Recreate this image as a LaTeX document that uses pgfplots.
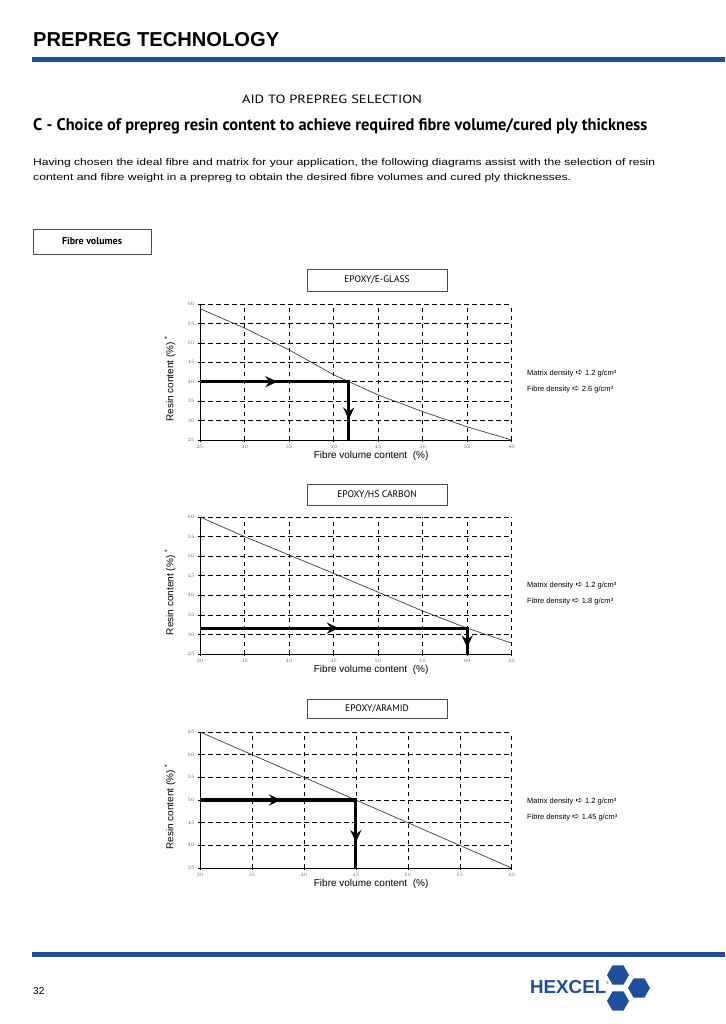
\documentclass[border=0pt]{standalone}
\usepackage{fontspec}
\setmainfont{Liberation Sans}
\newfontfamily\hand{PT Sans}
\newfontfamily\sym{DejaVu Sans}
\usepackage{pgfplots}
\pgfplotsset{compat=1.18}
\usetikzlibrary{arrows.meta,decorations.markings,shapes.geometric}
\definecolor{hexblue}{HTML}{1F4E9A}

\pgfplotsset{
  resin/.style={
    scale only axis, width=311.7pt, height=136pt,
    axis lines=left, axis line style={-, line width=0.8pt},
    grid=major, major grid style={black, line width=0.5pt, dash pattern=on 4.5pt off 3.5pt},
    tick align=outside, major tick length=2pt, tick style={black, line width=0.5pt},
    ticklabel style={font=\fontsize{3.5}{4}\selectfont, text=black!60},
    xtick distance=5, ytick distance=5,
    xlabel={Fibre volume content\ \ (\%)},
    ylabel={Resin content (\%) \textsuperscript{*}},
    label style={font=\fontsize{8.5}{10}\selectfont},
    every axis x label/.style={at={(axis description cs:0.549,0)}, anchor=center, yshift=-16pt},
    every axis y label/.style={at={(axis description cs:-0.096,0.45)}, anchor=center, rotate=90},
  },
  curve/.style={black!75, line width=0.7pt, no marks},
  guide/.style={black, line width=3.2pt, line cap=rect, no marks, postaction={decorate},
    decoration={markings, mark=at position #1 with {\arrow{Stealth[length=12pt,width=11pt,inset=4pt]}}}},
}

\begin{document}
\begin{tikzpicture}
\fill[white] (0,0) rectangle (725pt,-1024pt);

\begin{scope}[x=1pt,y=-1pt]
  % header
  \node[anchor=base west, inner sep=0] at (33,47) {\resizebox{246pt}{!}{\fontsize{20}{24}\selectfont\bfseries PREPREG TECHNOLOGY}};
  \fill[hexblue] (32,57.3) rectangle (725,61.8);
  \node[anchor=base, inner sep=0] at (332,104) {\resizebox{180pt}{8.5pt}{\hand AID TO PREPREG SELECTION}};
  \node[anchor=base west, inner sep=0] at (33,131) {\resizebox{614pt}{12pt}{\hand\bfseries C - Choice of prepreg resin content to achieve required fibre volume/cured ply thickness}};
  \node[anchor=base west, inner sep=0] at (33,165.5) {\resizebox{622pt}{7pt}{Having chosen the ideal fibre and matrix for your application, the following diagrams assist with the selection of resin}};
  \node[anchor=base west, inner sep=0] at (33,180.5) {\resizebox{538pt}{7pt}{content and fibre weight in a prepreg to obtain the desired fibre volumes and cured ply thicknesses.}};
  \draw[line width=0.8pt, black!70] (33,229) rectangle (151,254);
  \node[inner sep=0, font=\hand\bfseries\fontsize{10}{12}\selectfont] at (92,241.5) {Fibre volumes};

  % chart titles
  \draw[line width=0.8pt, black!70] (307,269.5) rectangle (447,291);
  \node[inner sep=0, font=\hand\fontsize{9.5}{11}\selectfont] at (377,280) {EPOXY/E-GLASS};
  \draw[line width=0.8pt, black!70] (307,484.5) rectangle (447,505);
  \node[inner sep=0, font=\hand\fontsize{9.5}{11}\selectfont] at (377,495) {EPOXY/HS CARBON};
  \draw[line width=0.8pt, black!70] (307,699) rectangle (447,718);
  \node[inner sep=0, font=\hand\fontsize{9.5}{11}\selectfont] at (377,708.5) {EPOXY/ARAMID};

  % densities
  \begin{scope}[every node/.style={anchor=base west, inner sep=0, font=\fontsize{7.5}{9}\selectfont}]
    \node at (527,375) {Matrix density {\sym\fontsize{9}{9}\selectfont ➪} 1.2 g/cm³};
    \node at (527,391) {Fibre density {\sym\fontsize{9}{9}\selectfont ➪} 2.6 g/cm³};
    \node at (527,587) {Matrix density {\sym\fontsize{9}{9}\selectfont ➪} 1.2 g/cm³};
    \node at (527,603) {Fibre density {\sym\fontsize{9}{9}\selectfont ➪} 1.8 g/cm³};
    \node at (527,803) {Matrix density {\sym\fontsize{9}{9}\selectfont ➪} 1.2 g/cm³};
    \node at (527,819) {Fibre density {\sym\fontsize{9}{9}\selectfont ➪} 1.45 g/cm³};
  \end{scope}

  % footer
  \fill[hexblue] (32,952.3) rectangle (725,956.8);
  \node[anchor=base west, inner sep=0, font=\fontsize{10}{12}\selectfont] at (33,994) {32};
  \node[anchor=base west, inner sep=0, text=hexblue] at (530,993) {\resizebox{76pt}{!}{\fontsize{18}{20}\selectfont\bfseries HEXCEL}};
  \node[anchor=base west, inner sep=0, text=hexblue, font=\fontsize{4}{5}\selectfont] at (606,984) {®};
  \foreach \cx/\cy in {618/975, 618/1001, 639/988}
    \node[regular polygon, regular polygon sides=6, minimum size=22pt, fill=hexblue, inner sep=0] at (\cx,\cy) {};
\end{scope}

% EPOXY/E-GLASS
\begin{axis}[resin, at={(200pt,-440pt)}, anchor=south west, height=136pt,
  xmin=25, xmax=60, ymin=25, ymax=60]
\addplot[curve] coordinates {(25,58.8) (30,53.8) (35,48.2) (40,41.8) (45,36.6) (50,32.3) (55,28.4) (60,25)};
\addplot[guide=0.52] coordinates {(25,40) (41.7,40)};
\addplot[guide=0.65] coordinates {(41.7,40) (41.7,25)};
\end{axis}

% EPOXY/HS CARBON
\begin{axis}[resin, at={(200pt,-654pt)}, anchor=south west, height=137pt,
  xmin=30, xmax=65, ymin=25, ymax=60]
\addplot[curve] coordinates {(30,60) (35,55) (40,50.3) (45,45.6) (50,40.8) (55,36) (60,31.6) (65,27.8)};
\addplot[guide=0.52] coordinates {(30,31.6) (60,31.6)};
\addplot[guide=0.75] coordinates {(60,31.6) (60,25)};
\end{axis}

% EPOXY/ARAMID
\begin{axis}[resin, at={(200pt,-868pt)}, anchor=south west, height=136pt,
  xmin=30, xmax=60, ymin=35, ymax=65]
\addplot[curve] coordinates {(30,65) (35,60) (40,55) (45,50) (50,45) (55,40) (60,35)};
\addplot[guide=0.52] coordinates {(30,50) (45,50)};
\addplot[guide=0.62] coordinates {(45,50) (45,35)};
\end{axis}
\end{tikzpicture}
\end{document}
